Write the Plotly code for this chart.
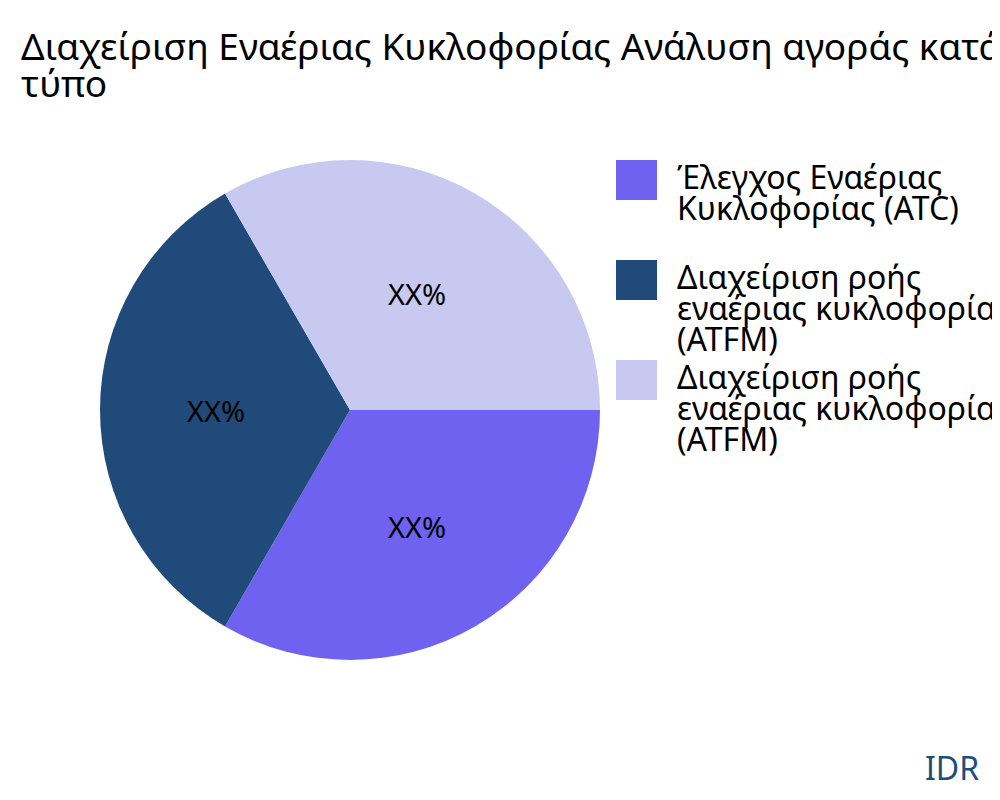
import plotly.graph_objects as go

# ---- data ----
title_text = "Διαχείριση Εναέριας Κυκλοφορίας Ανάλυση αγοράς κατά<br>τύπο"
labels = [
    "Έλεγχος Εναέριας Κυκλοφορίας (ATC)",
    "Διαχείριση ροής εναέριας κυκλοφορίας (ATFM)",
    "Διαχείριση ροής εναέριας κυκλοφορίας (ATFM)\u200b",
]
legend_lines = [
    ["Έλεγχος Εναέριας", "Κυκλοφορίας (ATC)"],
    ["Διαχείριση ροής", "εναέριας κυκλοφορίας", "(ATFM)"],
    ["Διαχείριση ροής", "εναέριας κυκλοφορίας", "(ATFM)"],
]
values = [1, 1, 1]
slice_text = ["XX%", "XX%", "XX%"]
colors = ["#6F62F1", "#1F4A7A", "#C8C9F0"]
source_label = "IDR"

W, H = 1000, 800
OFF = 8  # page body margin offset
FONT = "Noto Sans"


def mid_y(baseline_page, size):
    """paper y for an annotation centred so that its baseline lands at baseline_page."""
    return 1 - (baseline_page - OFF - 0.388 * size) / H


fig = go.Figure()
fig.add_trace(go.Pie(
    labels=labels,
    values=values,
    text=slice_text,
    textinfo="text",
    textposition="inside",
    insidetextorientation="horizontal",
    textfont=dict(family=FONT, size=29, color="#000000"),
    marker=dict(colors=colors, line=dict(width=0)),
    sort=False,
    direction="clockwise",
    rotation=90,
    showlegend=False,
    domain=dict(x=[(100 - OFF) / W, (600 - OFF) / W],
                y=[1 - (660 - OFF) / H, 1 - (160 - OFF) / H]),
))

shapes = []
annotations = []

# title (two lines, tight line spacing)
TITLE_SIZE = 37
for k, ln in enumerate(title_text.split("<br>")):
    annotations.append(dict(
        text=ln, xref="paper", yref="paper",
        x=(19 - OFF) / W, y=mid_y(60 + 37 * k, TITLE_SIZE),
        xanchor="left", yanchor="middle", showarrow=False,
        font=dict(family=FONT, size=TITLE_SIZE, color="#000000"),
    ))

# legend drawn as layout decoration
LEG_SIZE = 32
sq_left, sq_size = 616 - OFF, 41
text_left = 675
line_gap = 31
for i, (lines, col) in enumerate(zip(legend_lines, colors)):
    top = 160 + 100 * i
    shapes.append(dict(
        type="rect", xref="paper", yref="paper",
        x0=sq_left / W, x1=(sq_left + sq_size) / W,
        y0=1 - (top - OFF + 40) / H, y1=1 - (top - OFF) / H,
        fillcolor=col, line=dict(width=0),
    ))
    for j, ln in enumerate(lines):
        baseline = top + 29 + line_gap * j
        annotations.append(dict(
            text=ln, xref="paper", yref="paper",
            x=(text_left - OFF) / W, y=mid_y(baseline, LEG_SIZE),
            xanchor="left", yanchor="middle", showarrow=False,
            font=dict(family=FONT, size=LEG_SIZE, color="#000000"),
        ))

annotations.append(dict(
    text=source_label, xref="paper", yref="paper",
    x=(981 - OFF) / W, y=mid_y(780, 32), xanchor="right", yanchor="middle",
    showarrow=False, font=dict(family=FONT, size=32, color="#1F4E79"),
))

fig.update_layout(
    width=W, height=H,
    margin=dict(l=0, r=0, t=0, b=0),
    paper_bgcolor="white", plot_bgcolor="white",
    shapes=shapes,
    annotations=annotations,
    showlegend=False,
)

fig.write_html("out.html")
